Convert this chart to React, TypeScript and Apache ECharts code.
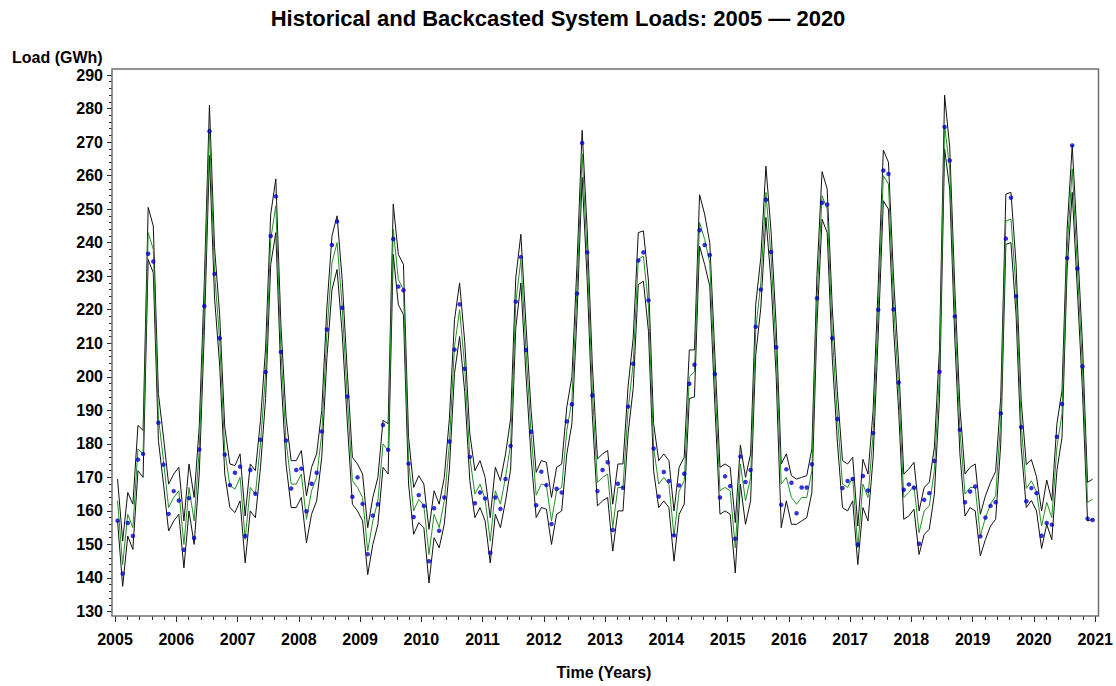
import React, { useEffect, useRef } from "react";
import * as echarts from "echarts";

const TITLE = "Historical and Backcasted System Loads: 2005 — 2020";
const Y_NAME = "Load (GWh)";
const X_NAME = "Time (Years)";

const START_YEAR = 2005;
const END_YEAR = 2021;
const Y_MIN = 130;
const Y_MAX = 290;

// Monthly actual loads (blue dots), Jan 2005 .. Dec 2020
const actual = [
  157.1, 141.3, 156.4, 152.5, 175.3, 177.0, 236.7, 234.4, 186.3, 173.8, 159.1, 165.9,
  163.1, 148.4, 163.8, 151.9, 178.3, 221.1, 273.2, 230.7, 211.5, 176.8, 167.7, 171.4,
  173.2, 152.5, 172.2, 165.1, 181.2, 201.4, 242.0, 253.8, 207.4, 181.0, 166.7, 172.2,
  172.6, 159.9, 168.1, 171.4, 183.7, 214.1, 239.3, 246.3, 220.6, 194.1, 164.2, 170.0,
  162.1, 147.1, 158.6, 162.0, 185.6, 178.2, 241.1, 226.9, 225.8, 174.1, 158.2, 164.7,
  161.5, 145.0, 160.8, 154.1, 164.0, 180.7, 208.1, 221.6, 202.4, 176.1, 162.3, 165.5,
  163.7, 147.5, 164.0, 160.6, 169.5, 179.4, 222.4, 235.7, 208.0, 183.6, 161.7, 171.7,
  167.7, 156.1, 166.6, 165.5, 186.7, 191.8, 224.8, 269.7, 237.1, 194.4, 165.9, 172.2,
  174.5, 154.3, 168.1, 166.9, 191.1, 203.9, 234.7, 237.1, 222.8, 178.6, 164.3, 171.6,
  168.9, 152.7, 167.6, 171.1, 197.9, 203.6, 243.7, 239.3, 236.3, 200.8, 164.0, 170.3,
  167.4, 151.7, 176.2, 168.6, 172.2, 214.9, 226.0, 252.8, 237.2, 208.8, 161.8, 172.4,
  168.4, 159.3, 167.0, 167.0, 173.9, 223.4, 251.9, 251.4, 211.5, 187.4, 166.8, 168.9,
  169.5, 150.0, 170.4, 166.1, 183.2, 220.0, 261.5, 260.5, 220.1, 198.3, 166.3, 167.9,
  166.9, 150.2, 163.3, 165.3, 174.9, 201.5, 274.5, 264.5, 218.0, 184.2, 162.6, 165.8,
  167.3, 152.4, 158.0, 161.5, 162.6, 189.1, 241.2, 253.4, 224.0, 185.0, 162.9, 166.8,
  165.3, 152.6, 156.4, 155.9, 182.1, 191.9, 235.4, 269.0, 232.3, 203.1, 157.7, 157.3,
];

// Backcasted / predicted load (green line)
const predicted = [
  163, 144, 159, 155, 178.5, 177, 243, 238, 188, 175, 161, 164,
  166, 150, 167, 157, 178, 221, 274, 231, 211, 178, 167.5, 166.5,
  170, 151.5, 167, 165, 180, 201, 241, 251, 208, 181, 168, 168,
  171, 157.5, 166, 170, 183, 213, 234, 240, 221, 194, 169, 167,
  164, 148, 157, 163, 180, 178, 244, 229, 226, 175, 160, 163.5,
  161.5, 147, 159, 155, 163, 180, 209, 220, 203, 176, 165, 168,
  163.5, 151, 166, 162, 170, 180, 222, 235, 208, 183, 164.7, 168,
  167.6, 157, 166, 167, 184, 193, 226, 266.5, 236, 196, 168.5, 170,
  171, 155, 167, 167, 190, 204, 235, 236, 221, 179, 168, 170,
  168, 152.5, 166, 169, 200, 201.5, 246, 241, 234, 199, 166, 167,
  166, 149, 174, 163, 170, 214, 228, 255, 236, 208, 168, 170,
  164, 162, 164, 164, 172, 223, 254, 250, 213, 188, 168, 167,
  170, 149, 168, 164, 183, 220, 260, 257.5, 222, 197, 164, 165.5,
  167.5, 153.5, 160, 161.5, 172, 201, 275, 262, 219, 184, 165, 167,
  167, 152.5, 158, 162, 164.5, 187, 246.5, 247, 226, 186, 166.7, 169,
  165.7, 155.5, 162.6, 158, 179, 189, 238, 262, 233, 203, 162.5, 163.5,
];

// Upper 95% limit (black)
const upper = [
  169.5, 151, 165.5, 162, 185.5, 184, 250.5, 245, 195, 182, 168, 171,
  173, 157, 174, 164, 185, 228.5, 281, 238.5, 218.5, 185, 174, 173.5,
  177, 158.5, 174, 172, 187, 208.5, 248.5, 259, 215.5, 188, 175, 175,
  178, 164.5, 173, 177, 190, 220.5, 242, 248, 229, 201.5, 176, 174,
  171, 155, 164, 170, 187, 186, 251.5, 236.5, 233.5, 182, 167, 170.5,
  168, 154.5, 166, 162, 170, 187.5, 217, 228, 210.5, 183, 172, 175,
  170, 158, 173, 169, 177, 187.5, 229.5, 242.5, 215.5, 190, 171.5, 175,
  174.5, 164, 173, 174, 191, 200, 233.5, 273.5, 243.5, 203.5, 175.5, 177,
  178, 162, 174, 174, 197, 211.5, 243, 243.5, 228.5, 186, 175, 177,
  175, 160, 173, 176, 208, 208, 254.3, 248.5, 240, 206.5, 173, 174,
  173, 156.5, 179.6, 170, 177, 221.5, 235.5, 262.8, 243.5, 215.5, 174, 177,
  170.5, 169.5, 170, 170.5, 178.5, 230.5, 261.2, 256, 220.5, 195.5, 175, 174,
  176, 155.5, 175.4, 171, 190, 227.5, 267.6, 264, 229.5, 204, 171, 172.5,
  174.5, 160, 167, 168.5, 179, 208.5, 284, 268.5, 226.5, 191, 171, 173,
  174, 159, 164.5, 168.5, 171.8, 194, 254.5, 255, 233.5, 193, 173.8, 175.3,
  170.2, 160, 169.2, 163.1, 186, 196, 244, 269, 240, 210, 168.5, 169.5,
];

// Lower 95% limit (black)
const lower = [
  157, 137.5, 152.5, 148.5, 172, 170, 235, 231, 181, 168, 154, 157,
  159, 143, 160, 150, 171, 213.5, 266, 223.5, 203.5, 171, 161, 159.5,
  163, 144.5, 160, 158, 173, 193.5, 233.5, 243, 200.5, 174, 161, 161,
  164, 150.5, 159, 163, 176, 205.5, 226, 232, 213, 186.5, 162, 160,
  157, 141, 150, 156, 173, 171, 236.5, 221.5, 218.5, 168, 153, 156.5,
  155, 138.5, 152, 149, 156, 172.5, 201, 212, 195.5, 169, 158, 161,
  157, 144.5, 159, 155, 163, 172.5, 214.5, 228, 200.5, 176, 158, 161,
  160.5, 150, 159, 160, 177, 186, 218.5, 259.5, 228.5, 188.5, 161.5, 163,
  164, 148, 160, 160, 183, 196.5, 227.5, 228.5, 213.5, 172, 161, 163,
  161, 145, 159, 162, 193.5, 194, 239, 233.5, 227, 191.5, 159, 160,
  159, 141.5, 168, 156, 163, 206.5, 220.5, 247.5, 228.5, 200.5, 155, 163,
  156, 156, 157, 158, 165.5, 215.5, 247, 243, 205.5, 180.5, 161, 160,
  163, 144, 161, 157, 176, 212.5, 252.5, 250, 214.5, 190, 157.5, 158.5,
  160.5, 147, 153, 154.5, 165, 193.5, 268, 256, 211.5, 177, 158.5, 161,
  160, 146.6, 151.5, 155.5, 157.5, 180, 239.5, 240, 218.5, 179, 161, 163.1,
  160, 148.8, 156, 151.4, 172, 182, 232, 255, 226, 196, 157, 157.5,
];

const FONT = '"Liberation Sans", Arial, Helvetica, sans-serif';

const toPoints = (arr: number[]) =>
  arr.map((v, i) => [START_YEAR + (i + 0.5) / 12, v]);

export default function App() {
  const ref = useRef<HTMLDivElement | null>(null);

  useEffect(() => {
    if (!ref.current) return;
    const chart = echarts.init(ref.current, null, { renderer: "svg" });
    const tickColor = "#2a2a2a";
    chart.setOption({
      animation: false,
      backgroundColor: "#ffffff",
      grid: { left: 115, top: 75, width: 980.7, height: 536.5, containLabel: false },
      xAxis: {
        type: "value",
        min: START_YEAR,
        max: END_YEAR,
        interval: 1,
        offset: 4.5,
        axisLine: { show: false },
        axisTick: { show: true, length: 6, lineStyle: { color: tickColor, width: 1 } },
        minorTick: { show: true, splitNumber: 5, length: 4, lineStyle: { color: tickColor, width: 1 } },
        splitLine: { show: false },
        minorSplitLine: { show: false },
        axisLabel: {
          formatter: (v: number) => String(v),
          margin: 15,
          fontSize: 16,
          fontWeight: "bold",
          fontFamily: FONT,
          color: "#000",
        },
      },
      yAxis: {
        type: "value",
        min: Y_MIN,
        max: Y_MAX,
        interval: 10,
        offset: 3,
        axisLine: { show: false },
        axisTick: { show: true, length: 5, lineStyle: { color: tickColor, width: 1 } },
        minorTick: { show: true, splitNumber: 5, length: 3, lineStyle: { color: tickColor, width: 1 } },
        splitLine: { show: false },
        minorSplitLine: { show: false },
        axisLabel: {
          margin: 9,
          fontSize: 16,
          fontWeight: "bold",
          fontFamily: FONT,
          color: "#000",
        },
      },
      graphic: [
        {
          type: "text",
          x: 558,
          y: 18,
          style: {
            text: TITLE,
            font: `bold 22px ${FONT}`,
            fill: "#000",
            textAlign: "center",
            textVerticalAlign: "middle",
          },
        },
        {
          type: "text",
          x: 12,
          y: 57,
          style: {
            text: Y_NAME,
            font: `bold 16px ${FONT}`,
            fill: "#000",
            textAlign: "left",
            textVerticalAlign: "middle",
          },
        },
        {
          type: "text",
          x: 604,
          y: 672,
          style: {
            text: X_NAME,
            font: `bold 16px ${FONT}`,
            fill: "#000",
            textAlign: "center",
            textVerticalAlign: "middle",
          },
        },
        {
          type: "rect",
          silent: true,
          z: 100,
          shape: { x: 112, y: 69, width: 986.5, height: 547 },
          style: { fill: "none", stroke: "#707070", lineWidth: 1.5 },
        },
      ],
      series: [
        {
          name: "Lower",
          type: "line",
          data: toPoints(lower),
          symbol: "none",
          lineStyle: { color: "#111111", width: 1 },
          z: 2,
        },
        {
          name: "Upper",
          type: "line",
          data: toPoints(upper),
          symbol: "none",
          lineStyle: { color: "#111111", width: 1 },
          z: 2,
        },
        {
          name: "Predicted",
          type: "line",
          data: toPoints(predicted),
          symbol: "none",
          lineStyle: { color: "#248f24", width: 1 },
          z: 3,
        },
        {
          name: "Actual",
          type: "scatter",
          data: toPoints(actual),
          symbol: "circle",
          symbolSize: 4.5,
          itemStyle: { color: "#0000cc" },
          z: 4,
        },
      ],
    });
    return () => {
      chart.dispose();
    };
  }, []);

  return (
    <div
      ref={ref}
      style={{ position: "fixed", left: 0, top: 0, width: 1116, height: 686, background: "#fff" }}
    />
  );
}
